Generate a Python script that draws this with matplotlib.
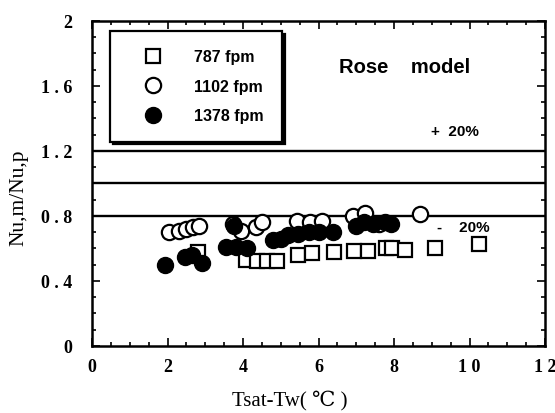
import numpy as np
import matplotlib.pyplot as plt
from matplotlib.ticker import MultipleLocator

# 787 fpm (open squares)
sq_x = [2.8, 4.08, 4.37, 4.63, 4.9, 5.45, 5.82, 6.42, 6.95, 7.3, 7.78, 7.95, 8.28, 9.08, 10.25]
sq_y = [0.575, 0.53, 0.525, 0.525, 0.525, 0.56, 0.57, 0.575, 0.585, 0.585, 0.60, 0.60, 0.59, 0.605, 0.63]

# 1102 fpm (open circles)
oc_x = [2.04, 2.3, 2.5, 2.68, 2.83, 3.72, 3.95, 4.35, 4.5, 5.42, 5.76, 6.1, 6.92, 7.22, 7.6, 8.68]
oc_y = [0.70, 0.71, 0.72, 0.73, 0.735, 0.75, 0.71, 0.73, 0.76, 0.77, 0.76, 0.77, 0.80, 0.815, 0.75, 0.81]

# 1378 fpm (filled circles)
fc_x = [1.92, 2.45, 2.65, 2.9, 3.55, 3.75, 3.8, 4.1, 4.78, 5.0, 5.2, 5.45, 5.74, 6.0, 6.38,
        6.98, 7.2, 7.45, 7.75, 7.93]
fc_y = [0.50, 0.55, 0.56, 0.51, 0.61, 0.74, 0.61, 0.60, 0.65, 0.66, 0.68, 0.69, 0.70, 0.70, 0.70,
        0.74, 0.76, 0.75, 0.76, 0.75]

ref_lines = [0.8, 1.0, 1.2]
labels = ['787 fpm', '1102 fpm', '1378 fpm']

serif = ['Liberation Serif', 'DejaVu Serif']
sans = ['Liberation Sans', 'DejaVu Sans']

fig = plt.figure(figsize=(5.55, 4.14), dpi=100)
ax = fig.add_axes([0.166, 0.162, 0.816, 0.785])

for yv in ref_lines:
    ax.axhline(yv, color='black', lw=1.7)

ax.plot(sq_x, sq_y, 's', ms=10, mfc='white', mec='black', mew=1.6, label=labels[0])
ax.plot(oc_x, oc_y, 'o', ms=11, mfc='white', mec='black', mew=1.6, label=labels[1])
ax.plot(fc_x, fc_y, 'o', ms=11.5, mfc='black', mec='black', mew=1.0, label=labels[2])

ax.set_xlim(0, 12)
ax.set_ylim(0, 2)
ax.xaxis.set_minor_locator(MultipleLocator(0.5))
ax.yaxis.set_minor_locator(MultipleLocator(0.1))
ax.tick_params(which='both', direction='in', top=True, right=True, width=1.2)
ax.tick_params(which='major', length=6)
ax.tick_params(axis='x', which='major', pad=9)
ax.tick_params(axis='y', which='major', pad=14)
ax.tick_params(which='minor', length=3)
for s in ax.spines.values():
    s.set_linewidth(1.8)

ax.set_xticks([0, 2, 4, 6, 8, 10, 12])
ax.set_xticklabels(['0', '2', '4', '6', '8', '1 0', '1 2'], family=serif, fontweight='bold', fontsize=13)
ax.set_yticks([0, 0.4, 0.8, 1.2, 1.6, 2])
ax.set_yticklabels(['0', '0 . 4', '0 . 8', '1 . 2', '1 . 6', '2'], family=serif, fontweight='bold', fontsize=13)

ax.set_xlabel('Tsat-Tw( ℃ )', family=serif, fontsize=15)
ax.xaxis.set_label_coords(0.436, -0.135)
ax.set_ylabel('Nu,m/Nu,p', family=serif, fontsize=15.5)
ax.yaxis.set_label_coords(-0.14, 0.46)

ax.text(6.55, 1.72, 'Rose    model', family=sans, fontsize=14.5, fontweight='bold', va='center')
ax.text(8.98, 1.32, '+  20%', family=sans, fontsize=11, fontweight='bold', va='center')
ax.text(9.15, 0.73, '-    20%', family=sans, fontsize=11, fontweight='bold', va='center')

leg = ax.legend(loc='upper left', bbox_to_anchor=(0.04, 0.969),
                prop={'family': sans, 'size': 11.5, 'weight': 'bold'},
                fancybox=False, edgecolor='black', framealpha=1, borderpad=1.15,
                labelspacing=0.9, handlelength=3.0, handletextpad=1.1, borderaxespad=0,
                shadow={'color': 'black', 'alpha': 1})
leg.get_frame().set_linewidth(1.6)

fig.savefig('out.png', dpi=100)
